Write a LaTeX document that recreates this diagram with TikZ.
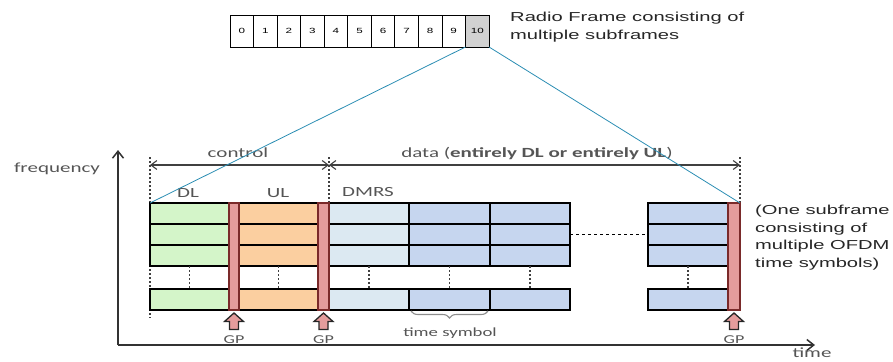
\documentclass[tikz,border=0pt]{standalone}
\usepackage{fontspec}
\setmainfont{Liberation Sans}
\newfontfamily\lblfont[FakeStretch=1.5]{Carlito}
\newfontfamily\arw[FakeStretch=1.55]{Liberation Sans}
\usetikzlibrary{arrows.meta,decorations.pathreplacing}
\definecolor{dlc}{HTML}{D4F5C9}
\definecolor{ulc}{HTML}{FBCFA0}
\definecolor{dmc}{HTML}{DCE9F2}
\definecolor{dac}{HTML}{C6D6EF}
\definecolor{gpc}{HTML}{E49C9C}
\definecolor{gpd}{HTML}{7A2A2A}
\definecolor{lblc}{HTML}{555555}
\definecolor{zoomc}{HTML}{2B8DB3}
\newcommand\mycell[6]{\node[cell,fill=#6,minimum width={(#3-#2)*1pt},minimum height={(#5-#4)*1pt}] (#1) at ({(#2+#3)/2},{(#4+#5)/2}) {};}
\begin{document}
\begin{tikzpicture}[x=1pt,y=-1pt,
 cell/.style={draw=black,line width=2.2pt,inner sep=0pt,outer sep=0pt},
 gpbar/.style={draw=gpd,fill=gpc,line width=1.4pt,inner sep=0pt,outer sep=0pt,minimum height=107pt},
 gparrow/.style={draw=black!85,fill=gpc,line width=1.3pt,line join=miter},
 lbl/.style={font=\lblfont\fontsize{14}{16}\selectfont,text=lblc,inner sep=0pt},
 small/.style={font=\lblfont\fontsize{12}{14}\selectfont,text=lblc,inner sep=0pt},
 arial/.style={font=\arw\fontsize{13}{17.5}\selectfont,text=black!85,inner sep=0pt,align=left},
 framebox/.style={draw=black,line width=0.8pt,fill=white,minimum width=23.55pt,minimum height=32pt,inner sep=0pt,outer sep=0pt,font=\arw\fontsize{7.5}{8}\selectfont},
 dots/.style={draw=black!75,line width=1.7pt,dash pattern=on 2pt off 2pt},
 dimline/.style={draw=black!75,line width=1.1pt,{Straight Barb[length=6pt,width=9pt]}-{Straight Barb[length=6pt,width=9pt]}},
 axis/.style={draw=black!80,line width=1.5pt,-{Straight Barb[length=7pt,width=11pt]}},
 zoomline/.style={draw=zoomc,line width=0.8pt},
 bracestyle/.style={draw=black!45,line width=1.1pt,decorate,decoration={brace,amplitude=7pt,mirror}}
]
\useasboundingbox (0,0) rectangle (893,361);

% radio frame
\foreach \i in {0,...,10} {\node[framebox] (f\i) at ({230+23.55*\i+11.775},31) {\i};}
\node[framebox,fill=black!18] (f10) at ({230+23.55*10+11.775},31) {10};
\node[arial,anchor=north west] (rtext) at (510,12) {Radio Frame consisting of\\multiple subframes};

% axes
\coordinate (O) at (118,345);
\coordinate (ytop) at (118,150);
\coordinate (xend) at (815,345);
\draw[axis] (O) -- (ytop);
\draw[axis] (O) -- (xend);
\node[lbl] (freq) at (57,169) {frequency};
\node[lbl] (time) at (812,353) {time};

% dotted boundaries
\coordinate (tA) at (150,157);
\coordinate (tB) at (329,157);
\coordinate (tC) at (740,157);
\coordinate (bA) at (150,318);
\draw[dots] (tA) -- (bA);
\draw[dots] (tB) -- (329,203);
\draw[dots] (tC) -- (740,203);

% dimension arrows
\coordinate (cA) at (150,165);
\coordinate (cB) at (329,165);
\coordinate (cC) at (740,165);
\draw[dimline] (cA) -- (cB);
\draw[dimline] (cB) -- (cC);
\node[lbl] (ctrl) at (238,153) {control};
\node[lbl] (data) at (537,153) {data (\textbf{entirely DL or entirely UL})};

% cells
\foreach \n/\a/\b/\c in {dl/150/229/dlc, ul/239/318/ulc, dm/329/409/dmc, da/409/490/dac, db/490/570/dac, dz/648/728/dac}{
  \foreach \r/\p/\q in {1/203/224, 2/224/245, 3/245/266, 4/289/310}{
    \mycell{\n\r}{\a}{\b}{\p}{\q}{\c}
  }
  \draw[dots] (\n3.south) -- (\n4.north);
}
\draw[black,line width=0.8pt,dashed] (db2.east) -- (dz2.west);

\node[lbl] (dllbl) at (188,193) {DL};
\node[lbl] (ullbl) at (278,193) {UL};
\node[lbl] (dmlbl) at (368,192) {DMRS};

% guard periods
\node[gpbar,minimum width=10pt] (gp1) at (234,256.5) {};
\node[gpbar,minimum width=11pt] (gp2) at (323.5,256.5) {};
\node[gpbar,minimum width=12pt] (gp3) at (734,256.5) {};
\foreach \g in {gp1,gp2,gp3}{
  \draw[gparrow] ([shift={(0,3)}]\g.south) -- ++(9.5,8.5) -- ++(-5,0) -- ++(0,8) -- ++(-9,0) -- ++(0,-8) -- ++(-5,0) -- cycle;
  \node[small] (\g lbl) at ([shift={(0,30)}]\g.south) {GP};
}

% time symbol brace
\draw[bracestyle] ([shift={(2,1)}]da4.south west) -- ([shift={(-2,1)}]da4.south east);
\node[small,font=\lblfont\fontsize{12.5}{14}\selectfont] (tslbl) at (450,333) {time symbol};

% right description
\node[arial,anchor=north west] (desc) at (755,205) {(One subframe\\consisting of\\multiple OFDM\\time symbols)};

% zoom lines
\draw[zoomline] (f10.south west) -- (dl1.north west);
\draw[zoomline] (f10.south east) -- (gp3.north east);
\end{tikzpicture}
\end{document}
